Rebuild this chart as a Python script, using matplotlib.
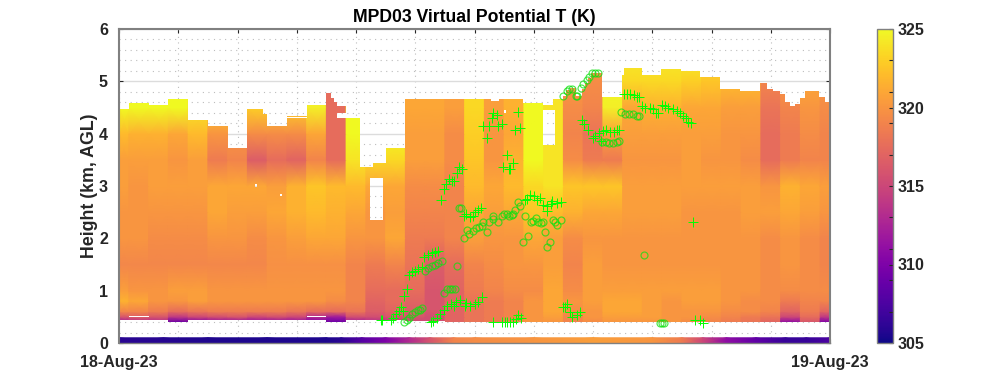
import numpy as np
import matplotlib
matplotlib.use("Agg")
import matplotlib.pyplot as plt
from matplotlib.path import Path
from matplotlib.patches import PathPatch

plt.rcParams['font.family'] = ['Liberation Sans', 'DejaVu Sans']
plt.rcParams['font.weight'] = 'bold'

# profile columns (hours); 40-minute scans
col_edges = [0, 1/3, 1, 5/3, 7/3, 3, 11/3, 13/3, 5, 17/3, 19/3, 7, 23/3, 25/3, 9, 29/3, 31/3, 11, 35/3,
             37/3, 13, 41/3, 43/3, 15, 47/3, 49/3, 17, 53/3, 55/3, 19, 59/3, 61/3, 21, 65/3, 67/3, 23, 71/3, 24]
levels = [0.40, 0.50, 0.60, 0.80, 1.00, 1.50, 2.00, 2.50, 3.00, 3.50, 4.00, 4.50, 5.00, 5.30]

# virtual potential temperature (K) at each level, one value per column
T040 = [312,313,313,309,310,311,311,311,311,311,310,309,312,313,314,315,315.5,317,318,318.5,319,320,320,319,319.5,320,320,320,320,319.5,319,318.5,318,317,311,316,310]
T050 = [316,316.5,316,314,315,315.5,316,315,315.5,315,313,312,315.5,315.5,316,316,315.5,317,318,318.5,319,320,320.5,319,320,320.5,320.5,320.5,320,320,319.5,319,318.5,318,315,317.5,314]
T060 = [319,319,318.5,317.5,318,318.5,318.5,318.5,318.5,318,317.5,317.5,318,316.5,317,316.5,316,317,318,318.5,319,320,321,319.5,320,321,321,320.5,320,320,320,319.5,319.5,319,317,318.5,317]
T080 = [321.5,321,320,320,320.5,320,320,320,320,320,320,319.5,319,317,317.5,317,316,317,318,318.5,319,320,321,320,320.5,321,321,320.5,320,320.5,320.5,320,319.5,319.5,318.5,319,319]
T100 = [320.5,320,320,320.5,320.5,320,320,320,320,320,320,320,319,317.5,317.5,317.5,316,317,318.5,319,319.5,319.5,321,319.5,320.5,320.5,320.5,320.5,320.5,320.5,320.5,320,320,319.5,319.5,319.5,319.5]
T150 = [319.2,319.2,319.2,319.2,319.2,319.2,319.2,319.2,319.7,319.7,319.7,319.7,319,318.5,319,318,316.5,317.5,319,319.5,320,320,320.5,319,320.5,320,320,320,320,320,320,320,320,319.5,320,319.5,319]
T200 = [320,320,319.5,319.5,319.5,320,320,319.5,320,320.5,321,321,320,320,321,318.5,318.5,319,320.5,320,320,321,320.5,319.5,320,320,320,320,320,320,320,320,320,319.5,320,319.5,319]
T250 = [320,320,320,320,320,321,320.5,320.5,321,321.5,322,321.5,321,320,320.5,319,319,319,321,320.5,321,322.5,322,321.5,321,321,320.5,320.5,320.5,320,320,320,320.5,320.5,321,320.5,320]
T300 = [320.5,320,320.5,320.5,320.5,321,321,321,320.5,321.5,322.5,322,322,321,321,319.5,319.5,319,322,321,322,323.5,324,322.5,322.5,322.5,320.5,320.5,320.5,320.5,320.5,320.5,320.5,320,321.5,321,320.5]
T350 = [320.5,320.5,320.5,320,320.5,318.5,319,316.5,317.5,317,319,317.5,324,323.5,323.5,320.5,320.5,319.5,322.5,320,321.5,325,324,319.5,318.5,318.5,320,320,320,320.5,320,320,319.5,317.5,318.5,319,319]
T400 = [322,321.5,321.5,321,322,320,320,319.5,319.5,319.5,321,317.5,325,325,325,320.5,320.5,319.5,323,320,321,325,324,319,318,320.5,320.5,320.5,320.5,320.5,320.5,320,320,317.5,318.5,319.5,319]
T450 = [325,325,325,325,324,323,323,323,323,323,324.5,317.5,325,325,325,321,321,320.5,323.5,320.5,321.5,325,324,319.5,319,324.5,321,321.5,321.5,321,321,320.5,320.5,318,319,320,319.5]
T500 = [325,325,325,325,325,325,325,325,325,325,325,317.5,325,325,325,321,321,320.5,323.5,320.5,321.5,325,324,320,319.5,325,323.5,323.5,323.5,323,322.5,322,322,319,320,321,320]
T530 = [325,325,325,325,325,325,325,325,325,325,325,317.5,325,325,325,321,321,320.5,323.5,320.5,321.5,325,324,320,320,325,324,324,324,324,323,322.5,322,319,320,321,320]

# top of the valid data: step outline (hour where the step starts, km)
top_hours = [0, 0.34, 1.01, 1.67, 2.33, 3.0, 3.67, 4.33, 4.87, 5.0, 5.67, 6.33, 7.0, 7.17, 7.27, 7.35, 7.67, 8.13, 8.57, 9.0,
             9.67, 12.55, 12.83, 13.64, 14.31, 14.64, 14.99, 15.09, 15.22, 15.43, 15.64, 15.73, 15.83, 15.93, 16.29, 16.98,
             17.05, 17.64, 18.30, 18.97, 19.61, 20.29, 20.96, 21.64, 21.87, 22.08, 22.31, 22.48, 22.65, 22.82, 22.99, 23.16, 23.63, 23.83]
top_km = [4.48, 4.59, 4.55, 4.66, 4.26, 4.15, 3.73, 4.48, 4.38, 4.15, 4.29, 4.55, 4.78, 4.68, 4.60, 4.53, 4.30, 3.36, 3.44, 3.73,
          4.66, 4.62, 4.66, 4.59, 4.55, 4.66, 4.72, 4.83, 4.88, 4.72, 4.85, 4.97, 5.06, 5.16, 4.70, 5.12,
          5.26, 5.12, 5.23, 5.20, 5.08, 4.86, 4.82, 4.97, 4.86, 4.81, 4.75, 4.60, 4.52, 4.57, 4.68, 4.82, 4.70, 4.60]
# bottom of the valid data, per column
bottom_km = [0.43,0.43,0.43,0.40,0.43,0.43,0.43,0.43,0.43,0.43,0.43,0.40,0.43,0.43,0.43,0.42,0.42,0.41,0.41,0.41,0.41,0.41,0.41,0.41,0.41,0.41,0.41,0.41,0.41,0.41,0.41,0.41,0.41,0.41,0.41,0.41,0.41]

# rejected gates: hour start, hour end, km start, km end
gap_h0 = [8.47, 14.31, 0.34, 6.33, 5.67, 7.35, 4.6, 5.43, 13.0]
gap_h1 = [8.91, 14.72, 1.01, 7.00, 6.33, 7.67, 4.67, 5.5, 13.07]
gap_k0 = [2.35, 3.78, 0.49, 0.49, 4.31, 4.30, 2.98, 2.81, 4.40]
gap_k1 = [3.15, 4.45, 0.52, 0.52, 4.34, 4.40, 3.03, 2.85, 4.46]

# surface station stripe
sfc_hours = [0, 1.5, 3, 5, 7, 7.5, 8.2, 9, 9.8, 10.5, 11.3, 12, 14, 16, 18, 19, 19.7, 20.5, 21.5, 22.5, 23.2, 24]
sfc_theta = [306, 305.8, 305.6, 305.5, 305.5, 306, 308, 310, 313, 316, 319, 319.5, 320, 320.5, 320, 318.5, 315, 311, 308.5, 306.5, 306.5, 307.5]

# cloud base (+) and aerosol layer (o) detections
plus_h = [8.85,8.89,9.17,9.26,9.35,9.46,9.51,9.58,9.63,9.73,9.80,9.90,9.99,10.10,10.24,10.31,10.44,10.58,10.67,10.78,10.52,10.61,10.72,10.84,10.97,11.08,11.20,11.31,11.38,11.51,11.68,11.71,11.85,12.02,12.11,12.24,12.63,12.94,13.03,13.11,13.20,13.31,13.39,13.48,13.56,14.98,15.05,15.13,15.22,15.30,15.45,15.56,19.39,19.44,19.61,19.72,
          10.88,10.98,11.04,11.15,11.23,11.31,11.40,11.49,11.57,11.65,11.71,11.85,11.94,12.02,12.11,12.22,12.97,13.09,13.16,13.20,13.31,13.70,13.78,13.87,14.01,14.12,14.21,14.32,14.44,14.46,14.57,14.62,14.79,14.91,12.41,12.30,12.48,12.58,12.63,12.75,12.80,12.92,13.48,13.37,13.55,
          15.64,15.71,15.82,15.99,16.07,16.20,16.26,16.35,16.44,16.57,16.71,16.80,16.89,17.05,17.16,17.25,17.38,17.47,17.56,17.64,17.76,17.92,18.02,18.12,18.20,18.32,18.43,18.54,18.69,18.83,18.94,19.05,19.14,19.22,19.30]
plus_k = [0.43,0.43,0.44,0.48,0.55,0.62,0.68,0.62,0.89,1.03,1.30,1.36,1.38,1.41,1.45,1.64,1.68,1.72,1.73,1.76,0.40,0.42,0.47,0.55,0.63,0.71,0.74,0.71,0.78,0.82,0.71,0.76,0.71,0.75,0.79,0.87,0.40,0.40,0.40,0.40,0.40,0.40,0.45,0.54,0.47,0.69,0.68,0.75,0.60,0.50,0.54,0.59,2.31,0.44,0.44,0.39,
          2.73,2.94,3.04,3.13,3.09,3.09,3.24,3.37,3.33,2.43,2.47,2.41,2.43,2.51,2.54,2.58,3.36,3.59,3.32,3.32,3.44,2.73,2.75,2.83,2.81,2.73,2.77,2.64,2.61,2.53,2.66,2.72,2.68,2.70,3.91,4.14,4.14,4.30,4.40,4.36,4.14,4.19,4.41,4.07,4.10,
          4.26,4.18,4.07,3.91,3.96,4.01,3.86,4.06,4.07,4.03,4.03,4.07,4.07,4.76,4.76,4.76,4.74,4.71,4.71,4.52,4.49,4.49,4.47,4.40,4.40,4.55,4.53,4.49,4.47,4.44,4.39,4.34,4.30,4.23,4.21]
circ_h = [9.63,9.71,9.80,9.88,9.99,10.08,10.16,10.24,10.33,10.44,10.55,10.67,10.78,10.89,11.40,10.97,11.06,11.17,11.25,11.34,11.48,11.54,11.66,11.74,11.82,11.94,12.05,12.16,12.24,12.30,12.41,12.49,12.61,12.63,12.80,12.92,13.00,13.09,13.17,13.25,13.31,13.38,13.48,13.54,13.65,13.82,13.71,13.90,13.96,14.06,14.15,14.23,14.32,14.39,14.46,14.56,14.64,14.72,14.79,14.91,17.72,18.26,18.34,18.40,
          15.00,15.11,15.20,15.29,15.43,15.47,15.58,15.67,15.79,15.87,15.96,16.07,16.18,16.29,16.44,16.55,16.69,16.80,16.89,16.95,17.08,17.22,17.36,17.47,17.56]
circ_k = [0.40,0.43,0.48,0.55,0.60,0.63,0.64,0.66,1.38,1.44,1.48,1.49,1.52,1.57,1.48,0.96,1.03,1.03,1.03,1.03,2.58,2.58,2.00,2.16,2.08,2.14,2.19,2.21,2.24,2.31,2.12,2.31,2.37,2.43,2.31,2.43,2.47,2.47,2.43,2.44,2.47,2.54,2.69,2.61,1.93,2.05,2.43,2.31,2.34,2.38,2.31,2.30,2.31,2.12,1.83,1.93,2.35,2.31,2.26,2.35,1.68,0.39,0.39,0.39,
          4.72,4.82,4.86,4.86,4.72,4.72,4.88,4.95,5.03,5.09,5.16,5.16,5.16,3.85,3.85,3.83,3.82,3.85,3.86,4.41,4.38,4.38,4.38,4.34,4.34]

title = 'MPD03 Virtual Potential T (K)'
y_ticks = [0, 1, 2, 3, 4, 5, 6]
x_ticks = [0, 2, 4, 6, 8, 10, 12, 14, 16, 18, 20, 22, 24]
x_labels = ['18-Aug-23'] + [''] * 11 + ['19-Aug-23']
cb_labels = [305, 310, 315, 320, 325]
cb_minor = [307, 309, 311, 313, 317, 319, 321, 323]

W, H = 1000, 385
fig = plt.figure(figsize=(W / 100, H / 100), dpi=100)
ax = fig.add_axes([119 / W, 1 - 343 / H, 711 / W, 314 / H])
cax = fig.add_axes([877 / W, 1 - 343 / H, 16 / W, 314 / H])
GREY = '#808080'
DARK = '#262626'

T = np.array([T040, T050, T060, T080, T100, T150, T200, T250, T300, T350, T400, T450, T500, T530])
edges = np.array(col_edges)
xg = np.column_stack([edges[:-1], edges[1:]]).ravel()
Tg = np.repeat(T, 2, axis=1)
mesh = ax.pcolormesh(xg, levels, Tg, cmap='plasma', vmin=305, vmax=325, shading='gouraud', zorder=2)

# outline of valid data, with the rejected gates as holes
verts, codes = [], []
outer = []
for i in range(len(bottom_km)):
    outer += [(edges[i], bottom_km[i]), (edges[i + 1], bottom_km[i])]
tops = list(top_hours) + [24]
for i in range(len(top_km) - 1, -1, -1):
    outer += [(tops[i + 1], top_km[i]), (tops[i], top_km[i])]
verts += outer + [outer[0]]
codes += [Path.MOVETO] + [Path.LINETO] * (len(outer) - 1) + [Path.CLOSEPOLY]
for h0, h1, k0, k1 in zip(gap_h0, gap_h1, gap_k0, gap_k1):
    verts += [(h0, k0), (h0, k1), (h1, k1), (h1, k0), (h0, k0)]
    codes += [Path.MOVETO, Path.LINETO, Path.LINETO, Path.LINETO, Path.CLOSEPOLY]
clip = PathPatch(Path(verts, codes), transform=ax.transData, facecolor='none', edgecolor='none')
ax.add_patch(clip)
mesh.set_clip_path(clip)

ax.pcolormesh(sfc_hours, [0, 0.1], np.array([sfc_theta, sfc_theta]), cmap='plasma', vmin=305, vmax=325,
              shading='gouraud', zorder=2)

ax.plot(plus_h, plus_k, ls='none', marker='+', ms=7.5, mew=0.7, color='#00ff00', zorder=4)
ax.plot(circ_h, circ_k, ls='none', marker='o', ms=5.0, mew=0.85, mfc='none', mec='#10e010', alpha=0.75, zorder=3)

ax.set_xlim(0, 24)
ax.set_ylim(0, 6)
ax.set_xticks(x_ticks)
ax.set_xticklabels(x_labels)
ax.set_yticks(y_ticks)
ax.set_yticks([v / 5 for v in range(31) if v % 5], minor=True)
ax.set_axisbelow(True)
ax.grid(True, axis='y', which='major', color='#dcdcdc', lw=1.0, ls='-')
ax.grid(True, axis='y', which='minor', color='#bdbdbd', lw=0.8, ls=(0, (1, 4)))
ax.grid(True, axis='x', which='major', color='#bdbdbd', lw=0.8, ls=(0, (1, 4)))
ax.tick_params(axis='both', which='major', direction='in', length=3, width=0.8, color=DARK,
               top=True, right=True, labelsize=11.5, labelcolor=DARK, pad=8)
ax.tick_params(axis='y', which='minor', length=0)
ax.tick_params(axis='x', pad=9)
for side, s in ax.spines.items():
    s.set_color(GREY)
    s.set_linewidth(1.5 if side in ('top', 'left', 'right') else 1.0)
    s.set_zorder(5)
ax.set_title(title, fontsize=12.7, fontweight='bold', color='black', pad=5)
ax.set_ylabel('Height (km, AGL)', fontsize=12.8, fontweight='bold', color=DARK, labelpad=1)

cb = fig.colorbar(mesh, cax=cax)
cb.set_ticks(cb_labels)
cax.yaxis.set_ticks(cb_minor, minor=True)
cax.tick_params(axis='y', which='major', length=3, direction='in', width=0.8, color=DARK, labelsize=11.5,
                labelcolor=DARK, pad=3)
cax.tick_params(axis='y', which='minor', length=3, direction='in', width=0.8, color=DARK)
cb.outline.set_edgecolor(GREY)
cb.outline.set_linewidth(1.0)

fig.savefig('out.png', dpi=100)
